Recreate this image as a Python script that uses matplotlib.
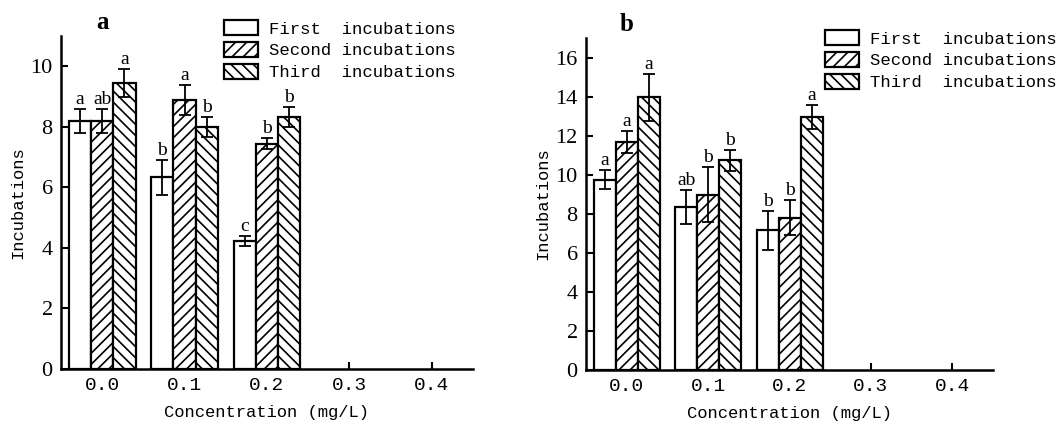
import matplotlib
matplotlib.use('Agg')
import matplotlib.pyplot as plt
import numpy as np
from matplotlib.transforms import blended_transform_factory

concentrations = ['0.0', '0.1', '0.2', '0.3', '0.4']
series = ['First  incubations', 'Second incubations', 'Third  incubations']

# panel a: means, errors and significance letters (one row per incubation)
a_means = [[8.2, 6.33, 4.23],
           [8.2, 8.9, 7.45],
           [9.45, 8.0, 8.33]]
a_errs = [[0.4, 0.57, 0.18],
          [0.4, 0.5, 0.19],
          [0.47, 0.33, 0.33]]
a_letters = [['a', 'b', 'c'],
             ['ab', 'a', 'b'],
             ['a', 'b', 'b']]

# panel b
b_means = [[9.75, 8.35, 7.16],
           [11.67, 8.98, 7.8],
           [13.97, 10.74, 12.95]]
b_errs = [[0.5, 0.85, 1.0],
          [0.55, 1.4, 0.9],
          [1.2, 0.55, 0.6]]
b_letters = [['a', 'ab', 'b'],
             ['a', 'b', 'b'],
             ['a', 'b', 'a']]

hatches = ['', '///', '\\\\\\']
MONO = 'Liberation Mono'
SERIF = 'Liberation Serif'
plt.rcParams['hatch.linewidth'] = 1.2


def draw_panel(ax, means, errs, letters, ymax, yticks, tag):
    width = 0.27
    idx = np.arange(len(means[0]))
    handles = []
    for k in range(3):
        pos = idx + (k - 1) * width
        h = ax.bar(pos, means[k], width, color='white', edgecolor='black',
                   linewidth=1.6, hatch=hatches[k], label=series[k], zorder=2)
        handles.append(h)
        ax.errorbar(pos, means[k], yerr=errs[k], fmt='none', ecolor='black',
                    elinewidth=1.3, capsize=4, capthick=1.3, zorder=3)
        for x, m, e, lab in zip(pos, means[k], errs[k], letters[k]):
            ax.text(x, m + e + ymax * 0.003, lab, ha='center', va='bottom',
                    family=SERIF, fontsize=14)

    ax.set_xlim(-0.5, len(concentrations) - 0.5)
    ax.set_ylim(0, ymax)
    ax.set_xticks(np.arange(len(concentrations)))
    ax.set_xticklabels(concentrations, family=MONO, fontsize=14)
    ax.set_yticks(yticks)
    ax.set_yticklabels([str(t) for t in yticks], family=SERIF, fontsize=16)
    ax.tick_params(direction='in', length=5, width=1.5, pad=6)
    for s in ('top', 'right'):
        ax.spines[s].set_visible(False)
    for s in ('left', 'bottom'):
        ax.spines[s].set_linewidth(1.8)
    ax.set_xlabel('Concentration (mg/L)', family=MONO, fontsize=12.3, labelpad=8)
    ax.set_ylabel('Incubations', family=MONO, fontsize=12.3, labelpad=4)

    trans = blended_transform_factory(ax.transData, ax.transAxes)
    ax.text(0, 1.04, tag, transform=trans, ha='center', va='center',
            family=SERIF, fontweight='bold', fontsize=18)
    return handles


fig = plt.figure(figsize=(10.59, 4.24), dpi=100)
ax_a = fig.add_axes([0.0576, 0.1297, 0.389, 0.785])
ax_b = fig.add_axes([0.5534, 0.1274, 0.3843, 0.783])

h_a = draw_panel(ax_a, a_means, a_errs, a_letters, 11, list(range(0, 11, 2)), 'a')
h_b = draw_panel(ax_b, b_means, b_errs, b_letters, 17, list(range(0, 17, 2)), 'b')

legend_kw = dict(loc='upper left', frameon=False, handlelength=2.0,
                 handleheight=1.0, handletextpad=0.6, labelspacing=0.3,
                 borderpad=0, borderaxespad=0,
                 prop={'family': MONO, 'size': 12.4})
fig.legend(h_a, series, bbox_to_anchor=(224 / 1059, 1 - 20 / 424), **legend_kw)
fig.legend(h_b, series, bbox_to_anchor=(825 / 1059, 1 - 30 / 424), **legend_kw)

fig.savefig('out.png', dpi=100)
